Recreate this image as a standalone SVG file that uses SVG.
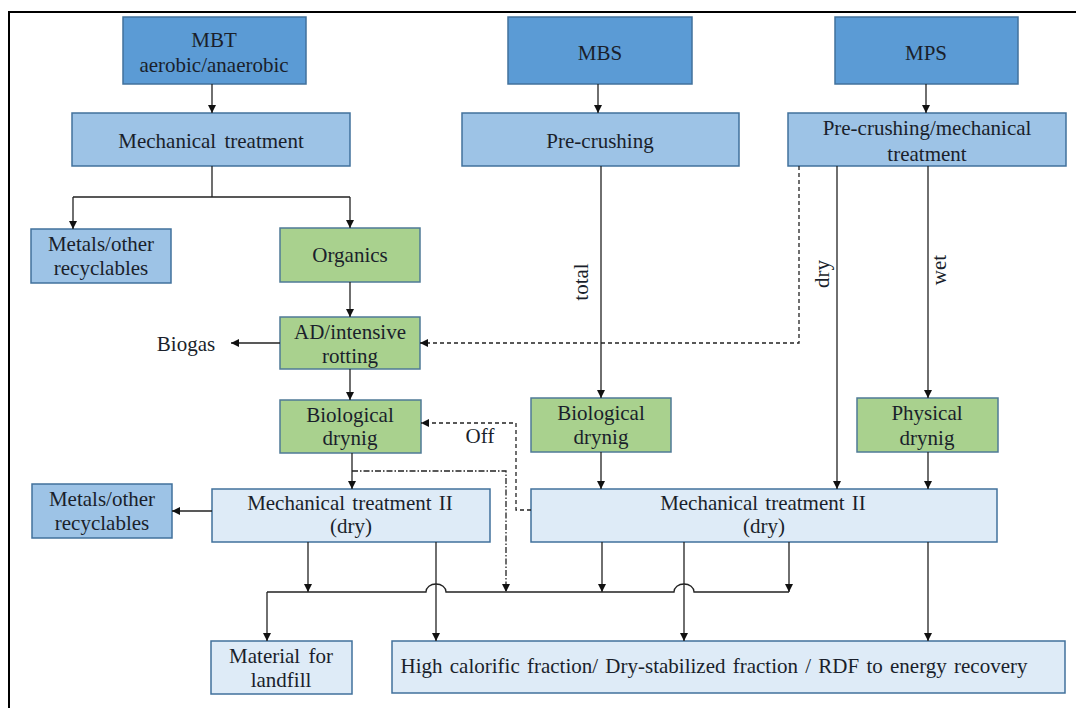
<svg xmlns="http://www.w3.org/2000/svg" width="1076" height="708" viewBox="0 0 1076 708">
<defs>
<marker id="ah" viewBox="0 0 10 10" refX="10" refY="5" markerWidth="8" markerHeight="8" markerUnits="userSpaceOnUse" orient="auto">
<path d="M0,0 L10,5 L0,10 z" fill="#111"/>
</marker>
</defs>
<style>
.dk{fill:#5B9BD5;stroke:#41719C;stroke-width:1.5}
.md{fill:#9DC3E6;stroke:#41719C;stroke-width:1.5}
.gr{fill:#A9D18E;stroke:#4F7A96;stroke-width:1.5}
.lt{fill:#DEEBF7;stroke:#41719C;stroke-width:1.5}
.t{font-family:'Liberation Serif','Times New Roman','DejaVu Serif',serif;font-size:21px;fill:#1a1f2b;text-anchor:middle}
.c{fill:none;stroke:#222;stroke-width:1.3}
.a{marker-end:url(#ah)}
.dash{stroke-dasharray:4,3}
.dd{stroke-dasharray:6,2,1.5,2}
</style>
<rect width="1076" height="708" fill="#fff"/>
<path d="M9,708 V12 H1076" fill="none" stroke="#000" stroke-width="2"/>

<g id="mbt"><rect class="dk" x="123" y="17" width="183" height="67"/><text class="t" x="214" y="47">MBT</text><text class="t" x="214" y="72">aerobic/anaerobic</text></g>
<g id="mbs"><rect class="dk" x="508" y="17" width="184" height="67"/><text class="t" x="600" y="60">MBS</text></g>
<g id="mps"><rect class="dk" x="835" y="17" width="183" height="67"/><text class="t" x="926" y="60">MPS</text></g>

<g id="mt1"><rect class="md" x="72" y="113" width="278" height="53"/><text class="t" x="211" y="148" word-spacing="3">Mechanical treatment</text></g>
<g id="precrush"><rect class="md" x="462" y="113" width="277" height="53"/><text class="t" x="600" y="148">Pre-crushing</text></g>
<g id="precrushmt"><rect class="md" x="788" y="113" width="278" height="53"/><text class="t" x="927" y="135">Pre-crushing/mechanical</text><text class="t" x="927" y="161">treatment</text></g>

<g id="metals1"><rect class="md" x="31" y="229" width="140" height="54"/><text class="t" x="101" y="251">Metals/other</text><text class="t" x="101" y="275">recyclables</text></g>
<g id="organics"><rect class="gr" x="280" y="228" width="140" height="54"/><text class="t" x="350" y="262">Organics</text></g>
<g id="ad"><rect class="gr" x="280" y="317" width="140" height="52"/><text class="t" x="350" y="339">AD/intensive</text><text class="t" x="350" y="363">rotting</text></g>
<g id="biogas"><text class="t" x="186" y="351">Biogas</text></g>
<g id="biodry1"><rect class="gr" x="280" y="400" width="141" height="53"/><text class="t" x="350" y="422">Biological</text><text class="t" x="350" y="445">drynig</text></g>
<g id="biodry2"><rect class="gr" x="531" y="398" width="140" height="54"/><text class="t" x="601" y="420">Biological</text><text class="t" x="601" y="444">drynig</text></g>
<g id="physdry"><rect class="gr" x="857" y="398" width="141" height="54"/><text class="t" x="927" y="420">Physical</text><text class="t" x="927" y="445">drynig</text></g>

<g id="metals2"><rect class="md" x="32" y="484" width="140" height="54"/><text class="t" x="102" y="506">Metals/other</text><text class="t" x="102" y="530">recyclables</text></g>
<g id="mt2a"><rect class="lt" x="212" y="489" width="278" height="53"/><text class="t" x="350" y="510" word-spacing="2">Mechanical treatment II</text><text class="t" x="351" y="533">(dry)</text></g>
<g id="mt2b"><rect class="lt" x="531" y="489" width="466" height="53"/><text class="t" x="763" y="510" word-spacing="2">Mechanical treatment II</text><text class="t" x="764" y="533">(dry)</text></g>
<g id="landfill"><rect class="lt" x="211" y="641" width="141" height="53"/><text class="t" x="281" y="663" word-spacing="3">Material for</text><text class="t" x="281" y="687">landfill</text></g>
<g id="rdf"><rect class="lt" x="392" y="641" width="673" height="52"/><text class="t" x="714" y="673" word-spacing="2">High calorific fraction/ Dry-stabilized fraction / RDF to energy recovery</text></g>

<g id="labels">
<text class="t" transform="translate(582,282) rotate(-90)" dy="6">total</text>
<text class="t" transform="translate(823,274) rotate(-90)" dy="6">dry</text>
<text class="t" transform="translate(940,270) rotate(-90)" dy="6">wet</text>
<text class="t" x="480" y="443">Off</text>
</g>

<g id="connectors">
<path class="c a" d="M212,84 V113"/>
<path class="c a" d="M598,84 V113"/>
<path class="c a" d="M926,84 V113"/>
<path class="c" d="M212,166 V197 M73,197 H350"/>
<path class="c a" d="M73,197 V229"/>
<path class="c a" d="M350,197 V228"/>
<path class="c a" d="M350,282 V317"/>
<path class="c a" d="M280,343 H231"/>
<path class="c a" d="M350,369 V400"/>
<path class="c a" d="M601,166 V398"/>
<path class="c a" d="M837,166 V489"/>
<path class="c a" d="M928,166 V398"/>
<path class="c dash a" d="M799,166 V343 H420"/>
<path class="c a" d="M352,453 V489"/>
<path class="c a" d="M601,452 V489"/>
<path class="c a" d="M928,452 V489"/>
<path class="c dash a" d="M531,510 H516 V423 H421"/>
<path class="c dd a" d="M352,471 H506 V592"/>
<path class="c a" d="M212,511 H172"/>
<path class="c a" d="M308,542 V592"/>
<path class="c a" d="M602,542 V592"/>
<path class="c a" d="M789,542 V592"/>
<path class="c" d="M267,592 H426 A10,8 0 0 1 446,592 H674 A10,8 0 0 1 694,592 H789"/>
<path class="c a" d="M267,592 V641"/>
<path class="c a" d="M436,542 V641"/>
<path class="c a" d="M684,542 V641"/>
<path class="c a" d="M928,542 V641"/>
</g>
</svg>
